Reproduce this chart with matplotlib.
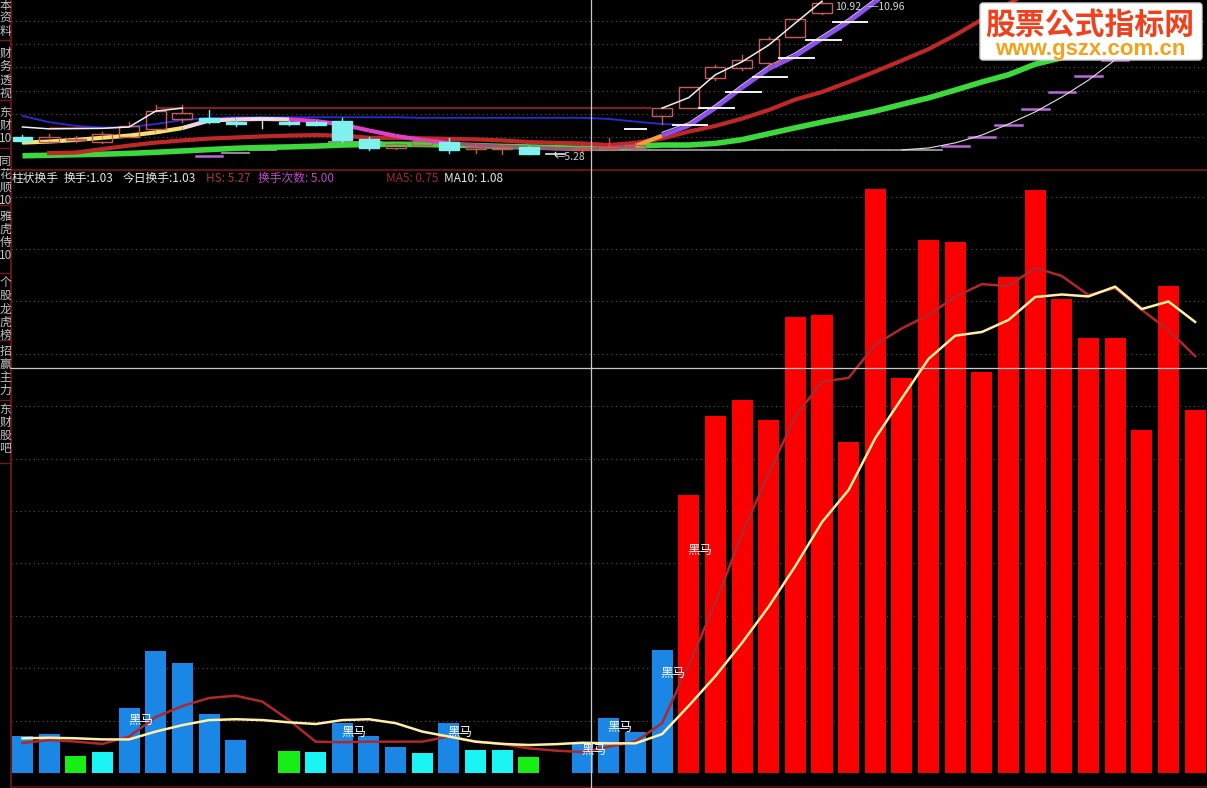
import numpy as np
import matplotlib
matplotlib.use('Agg')
import matplotlib.pyplot as plt
from matplotlib.patches import Rectangle, FancyBboxPatch
from matplotlib.collections import LineCollection

plt.rcParams['font.family'] = ['Noto Sans CJK SC', 'DejaVu Sans']
nan = np.nan

# ---------------- bottom panel: turnover (%) ----------------
turnover = [1.33, 1.40, 0.62, 0.76, 2.33, 4.37, 3.94, 2.12, 1.19, 0.0,
            0.80, 0.76, 1.80, 1.33, 0.94, 0.72, 1.79, 0.83, 0.83, 0.58,
            0.0, 1.03, 1.98, 1.48, 4.39, 9.93, 12.75, 13.32, 12.61, 16.29,
            16.36, 11.82, 20.86, 14.11, 19.04, 18.96, 14.32, 17.71, 20.82, 16.93,
            15.54, 15.54, 12.25, 17.39, 12.96]
bar_kind = ['b', 'b', 'g', 'c', 'b', 'b', 'b', 'b', 'b', '-',
            'g', 'c', 'b', 'b', 'b', 'c', 'b', 'c', 'c', 'g',
            '-', 'b', 'b', 'b', 'b'] + ['r'] * 20
ma5 = [1.07, 1.18, 1.12, 1.04, 1.30, 2.00, 2.39, 2.68, 2.76, 2.55,
       1.89, 1.12, 1.10, 1.12, 1.12, 1.12, 1.30, 1.12, 1.04, 0.88,
       0.80, 0.75, 0.94, 1.12, 1.78, 3.86, 6.07, 8.54, 10.71, 12.73,
       13.98, 14.11, 15.30, 15.88, 16.36, 17.01, 17.46, 17.39, 18.04, 17.75,
       17.07, 17.32, 16.54, 15.82, 14.89]
ma10 = [1.24, 1.26, 1.24, 1.20, 1.20, 1.48, 1.71, 1.89, 1.92, 1.89,
        1.81, 1.75, 1.89, 1.92, 1.78, 1.48, 1.30, 1.12, 1.04, 1.00,
        1.03, 1.08, 1.06, 1.06, 1.39, 2.40, 3.46, 4.65, 5.94, 7.39,
        8.96, 10.11, 11.96, 13.39, 14.79, 15.62, 15.75, 16.18, 17.00, 17.09,
        17.02, 17.37, 16.57, 16.84, 16.11]
heima_idx = [4, 12, 16, 21, 22, 24, 25]
heima_val = [1.89, 1.46, 1.46, 0.79, 1.61, 3.57, 7.96]

# ---------------- top panel: price ----------------
k_open = [5.93, 5.76, 5.84, 5.76, 5.95, 6.25, 6.62, 6.65, 6.50, 6.62,
          6.50, 6.50, 6.54, 5.87, 5.54, 5.65, 5.76, 5.50, 5.50, 5.58,
          5.30, 5.47, 5.50, 5.54, 6.73, 7.02, 8.14, 8.51, 8.70, 9.66, 10.55]
k_close = [5.80, 5.95, 5.87, 6.06, 6.36, 6.91, 6.84, 6.50, 6.43, 6.62,
           6.43, 6.41, 5.84, 5.54, 5.69, 5.80, 5.47, 5.58, 5.58, 5.32,
           5.30, 5.54, 5.58, 5.65, 7.02, 7.80, 8.55, 8.81, 9.59, 10.33, 10.92]
k_high = [6.02, 6.06, 5.99, 6.13, 6.50, 7.14, 7.14, 6.95, 6.58, 6.66,
          6.54, 6.54, 6.65, 5.95, 5.73, 5.87, 5.91, 5.65, 5.65, 5.61,
          5.39, 5.65, 5.91, 5.73, 7.02, 7.80, 8.62, 8.99, 9.66, 10.33, 10.96]
k_low = [5.73, 5.73, 5.76, 5.73, 5.95, 6.25, 6.50, 6.47, 6.36, 6.28,
         6.39, 6.39, 5.77, 5.47, 5.50, 5.61, 5.35, 5.35, 5.32, 5.30,
         5.28, 5.39, 5.47, 5.47, 6.43, 7.02, 8.06, 8.44, 8.51, 9.66, 10.50]
red_ma = [nan, 5.35, 5.37, 5.50, 5.63, 5.74, 5.82, 5.89, 5.93, 5.97,
          6.00, 6.02, 6.00, 5.92, 5.91, 5.90, 5.88, 5.86, 5.82, 5.76,
          5.73, 5.71, 5.65, 5.73, 5.89, 6.15, 6.36, 6.63, 6.95, 7.34,
          7.62, 7.99, 8.38, 8.79, 9.21, 9.73, 10.31, 10.89, 11.48]
green_ma = [5.25, 5.27, 5.29, 5.31, 5.34, 5.38, 5.43, 5.48, 5.53, 5.56,
            5.58, 5.61, 5.65, 5.67, 5.68, 5.67, 5.65, 5.63, 5.60, 5.58,
            5.55, 5.53, 5.54, 5.61, 5.65, 5.65, 5.71, 5.85, 6.07, 6.29,
            6.50, 6.70, 6.91, 7.16, 7.40, 7.69, 7.99, 8.26, 8.65, 8.89,
            9.12, 9.34, 9.55, 9.73, 9.92]
short_ma = [5.74, 5.78, 5.84, 5.92, 6.00, 6.12, 6.28, 6.56, 6.60, 6.62,
            6.60, 6.54, 6.41, 6.19, 5.99, 5.84, 5.72, 5.65, 5.60, 5.56,
            5.52, 5.50, 5.54, 5.61, 6.00, 6.36, 7.02, 7.77, 8.47, 8.95,
            9.59, 10.22, 10.96, 11.70]
blue_ma = [6.73, 6.50, 6.36, 6.30, 6.32, 6.43, 6.58, 6.65, 6.68, 6.68,
           6.68, 6.68, 6.68, 6.68, 6.68, 6.66, 6.66, 6.66, 6.66, 6.66,
           6.66, 6.66, 6.62, 6.52, 6.43, 6.39]
white_left = [6.32, 6.25, 6.26, 6.27, 6.32, 6.91, 7.02]
white_right_start = 24
white_right = [7.02, 7.41, 8.26, 8.74, 9.36, 10.18, 10.99]
resist_start = [1.03, 5.05]
resist_end = [3.28, 23.6]
resist_price = [6.28, 7.02]
wd_start = [22.6, 24.4, 25.4, 26.4, 27.4, 28.4, 29.4, 30.4]
wd_end = [23.4, 25.7, 26.7, 27.7, 28.7, 29.7, 30.7, 31.7]
wd_price = [6.25, 6.39, 7.02, 7.62, 8.18, 8.88, 9.55, 10.22]
stair_start = 7
stair = [5.24, 5.34, 5.47, 5.59, 5.65, 5.76, 5.76, 5.73, 5.69, 5.65,
         5.61, 5.58, 5.54, 5.50, 5.47, 5.47, 5.47, 5.47, 5.47, 5.47,
         5.47, 5.47, 5.47, 5.47, 5.47, 5.47, 5.47, 5.47, 5.61, 5.95,
         6.39, 6.99, 7.62, 8.21, 8.81, 9.40]
thin_start = 33
thin_line = [5.47, 5.54, 5.73, 6.02, 6.43, 6.88, 7.43, 8.06, 8.81]
top_grid = [10.25, 9.40, 8.53, 7.66, 6.80, 5.95]

legend_texts = ["柱状换手", "换手:1.03", "今日换手:1.03", "HS: 5.27", "换手次数: 5.00", "MA5: 0.75", "MA10: 1.08"]
legend_colors = ["#e8e8e8", "#e8e8e8", "#e8e8e8", "#a83a3a", "#c048c8", "#a82828", "#e8e8e8"]
legend_x = [11.5, 64, 123, 206, 258, 386.5, 444]

sidebar_labels = [["本", "资", "料"], ["财", "务", "透", "视"], ["东", "财", "10"],
                  ["同", "花", "顺", "10"], ["雅", "虎", "侍", "10"],
                  ["个", "股", "龙", "虎", "榜"], ["招", "赢", "主", "力"], ["东", "财", "股", "吧"]]
sidebar_y0 = [5, 53.5, 112.5, 161, 216, 282.5, 351, 409]
sidebar_sep = [40, 100, 148, 205, 273, 340, 400, 463]

# ---------------- figure ----------------
W, H = 1207, 788
fig = plt.figure(figsize=(W / 100, H / 100), dpi=100, facecolor='black')


def fax(l, t, r, b):
    return fig.add_axes([l / W, 1 - b / H, (r - l) / W, (b - t) / H])


ax_top = fax(11, 0, 1207, 169)
ax_bot = fax(11, 170, 1207, 786)
for ax in (ax_top, ax_bot):
    ax.set_axis_off()
    ax.set_xlim(-0.4315, 44.447)
ax_top.set_ylim(4.760, 11.034)
ax_bot.set_ylim(-0.464, 21.536)

dot = (0, (1, 3))
grid_step = 1.8714
for k in range(1, 12):
    ax_bot.axhline(k * grid_step, color='#70494a', lw=0.8, ls=dot, zorder=0)
for g in top_grid:
    ax_top.axhline(g, color='#70494a', lw=0.8, ls=dot, zorder=0)

# bars
bar_colors = {'b': '#1a86e6', 'g': '#16ee16', 'c': '#1af4f4', 'r': '#fb0000'}
for i, (v, kd) in enumerate(zip(turnover, bar_kind)):
    if kd in bar_colors and v > 0:
        ax_bot.bar(i, v, width=0.79, color=bar_colors[kd], linewidth=0, zorder=2)
xb = np.arange(len(turnover))
ax_bot.plot(xb, ma5, color='#b0282c', lw=1.8, zorder=3)
ax_bot.plot(xb, ma10, color='#fff0a4', lw=1.8, zorder=4)
for i, v in zip(heima_idx, heima_val):
    ax_bot.text(i - 0.05, v, '黑马', color='white', fontsize=9, ha='left', va='center', zorder=5)

# top panel lines
for s, e, p in zip(resist_start, resist_end, resist_price):
    ax_top.plot([s, e], [p, p], color='#a02222', lw=1.2, zorder=1.5)
for j, v in enumerate(stair):
    i = stair_start + j
    col = '#b868d8' if (i == 7 or i >= 35) else '#9a9a9a'
    ax_top.plot([i - 0.5, i + 0.5], [v, v], color=col, lw=1.8 if col != '#9a9a9a' else 1.3, zorder=1)
ax_top.plot(thin_start + np.arange(len(thin_line)), thin_line, color='#e0e0e0', lw=0.8, zorder=1.2)
ax_top.plot(np.arange(len(green_ma)), green_ma, color='#3cd83c', lw=4, zorder=2, solid_capstyle='butt')
ax_top.plot(np.arange(len(red_ma)), red_ma, color='#c02828', lw=3, zorder=3)
ax_top.plot(np.arange(len(blue_ma)), blue_ma, color='#2a2acc', lw=1.4, zorder=2.5)

pts = np.column_stack([np.arange(len(short_ma)), short_ma])
segs = [pts[j:j + 2] for j in range(len(pts) - 1)]
seg_cols, seg_lw = [], []
for j in range(len(segs)):
    if j < 6:
        seg_cols.append('#f2e070'); seg_lw.append(3)
    elif j < 10:
        seg_cols.append('#f0d4dc'); seg_lw.append(3)
    elif j < 16:
        seg_cols.append('#e040c8'); seg_lw.append(3)
    elif j < 23:
        seg_cols.append('#a05080'); seg_lw.append(2.5)
    elif j == 23:
        seg_cols.append('#f0a040'); seg_lw.append(3)
    else:
        seg_cols.append('#8c50f0'); seg_lw.append(3)
ax_top.add_collection(LineCollection(segs, colors=seg_cols, linewidths=seg_lw, zorder=3.5))
xs = np.arange(24, len(short_ma))
ax_top.plot(xs, np.array(short_ma[24:]) + 0.12, color='#c8a8ff', lw=0.9, zorder=3.6)

# candles
cw = 0.75
for i, (o, c, h, l) in enumerate(zip(k_open, k_close, k_high, k_low)):
    if c > o:
        col = '#c85a5a'
        ax_top.add_patch(Rectangle((i - cw / 2, o), cw, c - o, fill=False, ec=col, lw=1, zorder=4))
        ax_top.plot([i, i], [l, o], color=col, lw=1, zorder=4)
        ax_top.plot([i, i], [c, h], color=col, lw=1, zorder=4)
    elif c < o:
        col = '#80f2ee'
        ax_top.plot([i, i], [l, h], color=col, lw=1, zorder=4)
        ax_top.add_patch(Rectangle((i - cw / 2, c), cw, o - c, fc=col, ec=col, lw=1, zorder=4))
    else:
        col = '#e8e8e8'
        ax_top.plot([i, i], [l, h], color=col, lw=1, zorder=4)
        ax_top.plot([i - cw / 2, i + cw / 2], [o, o], color=col, lw=1.2, zorder=4)

ax_top.plot(np.arange(len(white_left)), white_left, color='#f0f0f0', lw=1.1, zorder=5)
ax_top.plot(white_right_start + np.arange(len(white_right)), white_right, color='#f0f0f0', lw=1.1, zorder=5)
for s, e, p in zip(wd_start, wd_end, wd_price):
    ax_top.plot([s, e], [p, p], color='#f4f4f4', lw=1.4, zorder=5)

ax_top.text(19.95, 5.21, '←5.28', color='#d0d0d0', fontsize=7.5, ha='left', va='center', zorder=6)
ax_top.text(30.49, 10.76, '10.92', color='#d8d8d8', fontsize=7.5, ha='left', va='center', zorder=6)
ax_top.text(31.73, 10.76, '─10.96', color='#d8d8d8', fontsize=7.5, ha='left', va='center', zorder=6)

# ---------------- overlay (frame, crosshair, sidebar, labels) ----------------
ov = fig.add_axes([0, 0, 1, 1])
ov.set_xlim(0, W)
ov.set_ylim(H, 0)
ov.set_axis_off()
ov.patch.set_alpha(0)

ov.plot([10.5, 10.5], [0, H], color='#7a1818', lw=1.2)
ov.plot([11, W], [169.5, 169.5], color='#7a1818', lw=1.2)
ov.plot([11, W], [786.5, 786.5], color='#5a1212', lw=1.2)
for y in sidebar_sep:
    ov.plot([0, 10], [y, y], color='#7a1818', lw=1)
for chars, y0 in zip(sidebar_labels, sidebar_y0):
    for j, ch in enumerate(chars):
        ov.text(5.2, y0 + j * 13.2, ch, color='#c4c4c4', fontsize=8.5, ha='center', va='center')

ov.plot([590.5, 590.5], [0, H], color='#c8c8c8', lw=0.9)
ov.plot([11, W], [367.5, 367.5], color='#c8c8c8', lw=0.9)

for s, c, x in zip(legend_texts, legend_colors, legend_x):
    ov.text(x, 178.5, s, color=c, fontsize=8.5, ha='left', va='center')

ov.add_patch(FancyBboxPatch((980, 3), 222, 57, boxstyle='round,pad=0,rounding_size=3',
                            fc='white', ec='#cfcfcf', lw=1, zorder=8))
ov.text(1090, 34, '股票公式指标网', color='#f0401c', fontsize=21.5, fontweight='bold',
        ha='center', va='baseline', zorder=9)
ov.text(1090, 54.5, 'www.gszx.com.cn', color='#f5a11a', fontsize=16, fontweight='bold',
        family=['Liberation Sans', 'DejaVu Sans'], ha='center', va='baseline', zorder=9)

fig.savefig('out.png', dpi=100, facecolor='black')
